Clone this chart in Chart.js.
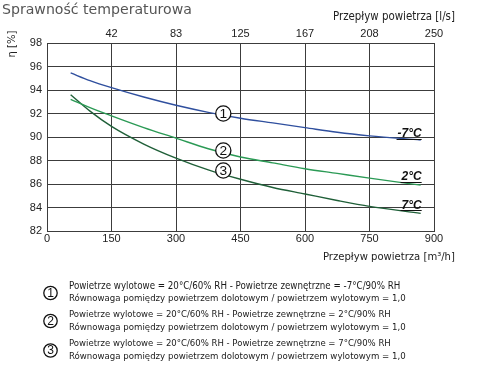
<!DOCTYPE html>
<html>
<head>
<meta charset="utf-8">
<script src="https://cdn.jsdelivr.net/npm/chart.js@4/dist/chart.umd.min.js"></script>
<style>
html,body{margin:0;padding:0;background:#fff;}
#wrap{position:relative;width:480px;height:380px;}
</style>
</head>
<body>
<div id="wrap"><canvas id="c" width="480" height="380"></canvas></div>
<script>
// ---- data ----
const flow = [55, 100, 150, 225, 300, 375, 450, 525, 600, 675, 750, 869];
const effMinus7 = [95.45, 94.8, 94.2, 93.4, 92.7, 92.1, 91.6, 91.2, 90.8, 90.4, 90.1, 89.75];
const eff2 = [93.2, 92.5, 91.8, 90.8, 89.9, 89.0, 88.3, 87.8, 87.3, 86.9, 86.5, 85.9];
const eff7 = [93.6, 92.2, 90.9, 89.4, 88.2, 87.2, 86.4, 85.7, 85.15, 84.6, 84.1, 83.5];
const seriesNames = ['-7°C', '2°C', '7°C'];
const markerNumbers = ['1', '2', '3'];
const markerFlow = 410;
const markerEff = [92.0, 88.85, 87.15];
const endLabelEff = [90.0, 86.3, 83.9];
const topTickLabels = ['', '42', '83', '125', '167', '208', '250'];
const chartTitle = 'Sprawność temperaturowa';
const yTitle = 'η [%]';
const topTitle = 'Przepływ powietrza [l/s]';
const bottomTitle = 'Przepływ powietrza [m³/h]';
const legendLines = [
  ['Powietrze wylotowe = 20°C/60% RH - Powietrze zewnętrzne = -7°C/90% RH',
   'Równowaga pomiędzy powietrzem dolotowym / powietrzem wylotowym = 1,0'],
  ['Powietrze wylotowe = 20°C/60% RH - Powietrze zewnętrzne = 2°C/90% RH',
   'Równowaga pomiędzy powietrzem dolotowym / powietrzem wylotowym = 1,0'],
  ['Powietrze wylotowe = 20°C/60% RH - Powietrze zewnętrzne = 7°C/90% RH',
   'Równowaga pomiędzy powietrzem dolotowym / powietrzem wylotowym = 1,0']
];

const colors = ['#2f4f9e', '#2b9a55', '#1f5f38'];
const allEff = [effMinus7, eff2, eff7];
const condensed = '"DejaVu Sans Condensed", "DejaVu Sans", sans-serif';

function fitText(ctx, text, x, y, targetW, family, baseSize, weight) {
  ctx.font = (weight || '') + ' ' + baseSize + 'px ' + family;
  const w = ctx.measureText(text).width;
  let size = baseSize * targetW / w;
  ctx.font = (weight || '') + ' ' + size.toFixed(2) + 'px ' + family;
  ctx.fillText(text, x, y);
}

function circleMark(ctx, cx, cy, r, num) {
  ctx.save();
  ctx.beginPath();
  ctx.arc(cx, cy, r, 0, Math.PI * 2);
  ctx.fillStyle = '#fff';
  ctx.fill();
  ctx.lineWidth = 1.3;
  ctx.strokeStyle = '#111';
  ctx.stroke();
  ctx.fillStyle = '#111';
  ctx.font = (r * 1.8).toFixed(1) + 'px "Liberation Sans", Arial, sans-serif';
  ctx.textAlign = 'center';
  ctx.textBaseline = 'middle';
  ctx.fillText(num, cx, cy + 0.5);
  ctx.restore();
}

const overlay = {
  id: 'overlay',
  afterDraw(chart) {
    const ctx = chart.ctx;
    const xs = chart.scales.x, ys = chart.scales.y;
    ctx.save();
    // title
    ctx.fillStyle = '#555';
    ctx.textAlign = 'left';
    ctx.textBaseline = 'middle';
    fitText(ctx, chartTitle, 2, 10, 190, '"DejaVu Sans", sans-serif', 14);
    // axis titles
    ctx.fillStyle = '#222';
    fitText(ctx, topTitle, 333, 17, 122, condensed, 10);
    fitText(ctx, bottomTitle, 323, 257, 132, condensed, 10);
    // y title rotated
    ctx.save();
    ctx.translate(12, 44);
    ctx.rotate(-Math.PI / 2);
    ctx.textAlign = 'center';
    ctx.font = '10px "DejaVu Sans", sans-serif';
    ctx.fillText(yTitle, 0, 0);
    ctx.restore();
    // markers on curves
    for (let i = 0; i < markerNumbers.length; i++) {
      circleMark(ctx, xs.getPixelForValue(markerFlow), ys.getPixelForValue(markerEff[i]), 7.6, markerNumbers[i]);
    }
    // end labels
    ctx.font = 'italic bold 12px "Liberation Sans", Arial, sans-serif';
    ctx.textAlign = 'right';
    ctx.textBaseline = 'alphabetic';
    ctx.fillStyle = '#111';
    ctx.strokeStyle = '#111';
    ctx.lineWidth = 1;
    const lastX = xs.getPixelForValue(flow[flow.length - 1]) + 1;
    for (let i = 0; i < seriesNames.length; i++) {
      const y = ys.getPixelForValue(endLabelEff[i]);
      ctx.fillText(seriesNames[i], lastX, y);
      const w = ctx.measureText(seriesNames[i]).width;
      ctx.beginPath();
      ctx.moveTo(lastX - w - 1, Math.round(y + 1.5) + 0.5);
      ctx.lineTo(lastX, Math.round(y + 1.5) + 0.5);
      ctx.stroke();
    }
    // legend below
    const groupY = [[286, 299], [315, 327.5], [344, 356.5]];
    const circY = [293, 321, 350.5];
    ctx.textAlign = 'left';
    ctx.textBaseline = 'middle';
    for (let g = 0; g < legendLines.length; g++) {
      circleMark(ctx, 50.5, circY[g], 6.7, markerNumbers[g]);
      ctx.fillStyle = '#1a1a1a';
      fitText(ctx, legendLines[g][0], 69, groupY[g][0], g === 0 ? 332 : 322, condensed, 10);
      fitText(ctx, legendLines[g][1], 69, groupY[g][1], 337, condensed, 10);
    }
    ctx.restore();
  }
};

const tickFont = {family: '"Liberation Sans", Arial, sans-serif', size: 11};
const gridCol = '#3c3c3c';

new Chart(document.getElementById('c'), {
  type: 'line',
  data: {
    datasets: allEff.map((arr, i) => ({
      label: seriesNames[i],
      data: flow.map((f, j) => ({x: f, y: arr[j]})),
      borderColor: colors[i],
      borderWidth: 1.4,
      pointRadius: 0,
      fill: false,
      tension: 0.4,
      cubicInterpolationMode: 'monotone',
      xAxisID: 'x',
      yAxisID: 'y'
    }))
  },
  options: {
    responsive: false,
    animation: false,
    devicePixelRatio: 1,
    layout: {padding: {left: 0, right: 46, top: 0, bottom: 129}},
    plugins: {legend: {display: false}, title: {display: false}, tooltip: {enabled: false}},
    scales: {
      x: {
        type: 'linear', position: 'bottom', min: 0, max: 900,
        ticks: {stepSize: 150, font: tickFont, color: '#222', padding: 1, maxRotation: 0, autoSkip: false},
        grid: {color: gridCol, drawTicks: false, lineWidth: 1},
        border: {color: gridCol},
        afterFit: s => { s.height = 20; }
      },
      x2: {
        type: 'linear', position: 'top', min: 0, max: 900,
        ticks: {stepSize: 150, font: tickFont, color: '#222', padding: 2, maxRotation: 0, autoSkip: false,
          callback: (v, i) => topTickLabels[i]},
        grid: {display: false, drawTicks: false},
        border: {color: gridCol},
        afterFit: s => { s.height = 43; }
      },
      y: {
        min: 82, max: 98,
        ticks: {stepSize: 2, font: tickFont, color: '#222', padding: 5},
        grid: {color: gridCol, drawTicks: false, lineWidth: 1},
        border: {color: gridCol},
        afterFit: s => { s.width = 47; }
      }
    }
  },
  plugins: [overlay]
});
</script>
</body>
</html>
